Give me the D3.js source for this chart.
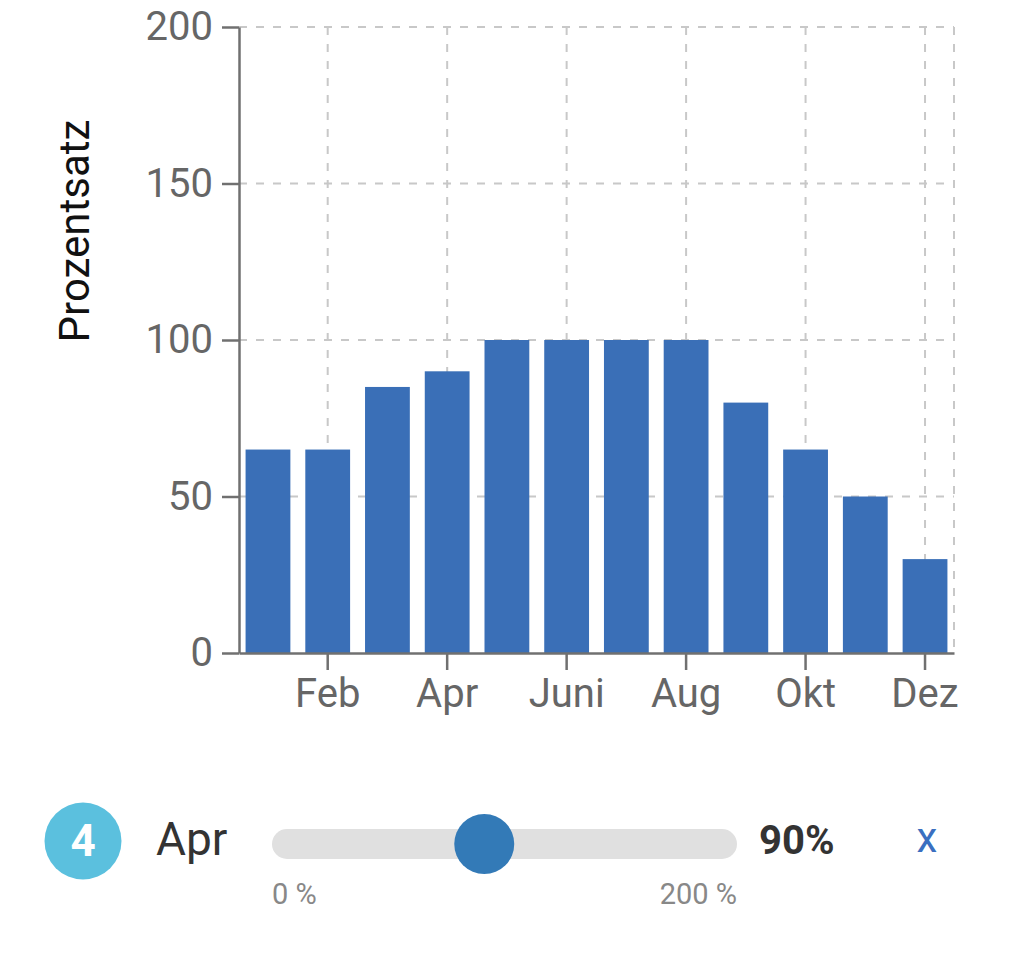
<!DOCTYPE html>
<html>
<head>
<meta charset="utf-8">
<script src="https://cdn.jsdelivr.net/npm/d3@7"></script>
<style>
  html, body { margin: 0; padding: 0; background: #fff; }
  svg { display: block; font-family: Roboto, "Noto Sans", sans-serif; }
</style>
</head>
<body>
<svg id="chart" width="1024" height="953"></svg>
<script>
// ---- data ----
const months = ["Jan", "Feb", "Mär", "Apr", "Mai", "Juni", "Juli", "Aug", "Sep", "Okt", "Nov", "Dez"];
const values = [65, 65, 85, 90, 100, 100, 100, 100, 80, 65, 50, 30];
const shownMonths = ["Feb", "Apr", "Juni", "Aug", "Okt", "Dez"];
const yTicks = [0, 50, 100, 150, 200];
const yLabel = "Prozentsatz";
const selectedIndex = 3;          // Apr
const sliderDomain = [0, 200];
const sliderLabels = ["0 %", "200 %"];

// ---- layout ----
const L = 239, R = 954, T = 27, B = 653;
const svg = d3.select("#chart");

const x = d3.scaleBand().domain(months).range([L, R]).paddingInner(0.25).paddingOuter(0.11);
const y = d3.scaleLinear().domain([0, 200]).range([B, T]);

const gridColor = "#c8c8c8";
const dash = "8,9";

// horizontal grid
svg.append("g").selectAll("line")
  .data(yTicks.filter(d => d > 0))
  .join("line")
  .attr("x1", L).attr("x2", R)
  .attr("y1", d => y(d)).attr("y2", d => y(d))
  .attr("stroke", gridColor).attr("stroke-width", 2).attr("stroke-dasharray", dash);

// vertical grid
const vx = shownMonths.map(m => x(m) + x.bandwidth() / 2).concat([R]);
svg.append("g").selectAll("line")
  .data(vx)
  .join("line")
  .attr("x1", d => d).attr("x2", d => d)
  .attr("y1", T).attr("y2", B)
  .attr("stroke", gridColor).attr("stroke-width", 2).attr("stroke-dasharray", dash);

// bars
svg.append("g").selectAll("rect")
  .data(values)
  .join("rect")
  .attr("x", (d, i) => x(months[i]))
  .attr("width", x.bandwidth())
  .attr("y", d => y(d))
  .attr("height", d => B - y(d))
  .attr("fill", "#3a6fb7");

const axisColor = "#707070";
const tickText = "#666666";

// x axis
const gx = svg.append("g").attr("transform", `translate(0,${B})`)
  .call(d3.axisBottom(x).tickValues(shownMonths).tickSize(17).tickSizeOuter(0).tickPadding(8.6));
gx.select(".domain").attr("stroke", axisColor).attr("stroke-width", 2.5);
gx.selectAll(".tick line").attr("stroke", axisColor).attr("stroke-width", 2.5);
gx.selectAll(".tick text").attr("fill", tickText).style("font-size", "40px").style("font-family", "Roboto");

// y axis
const gy = svg.append("g").attr("transform", `translate(${L},0)`)
  .call(d3.axisLeft(y).tickValues(yTicks).tickSize(17).tickSizeOuter(0).tickPadding(9));
gy.select(".domain").attr("stroke", axisColor).attr("stroke-width", 2.5);
gy.selectAll(".tick line").attr("stroke", axisColor).attr("stroke-width", 2.5);
gy.selectAll(".tick text").attr("fill", tickText).style("font-size", "40px").style("font-family", "Roboto");

// y label
svg.append("text")
  .attr("transform", `translate(89,231) rotate(-90)`)
  .attr("text-anchor", "middle")
  .style("font-size", "42px")
  .attr("fill", "#111")
  .text(yLabel);

// ---- bottom control ----
const cy = 841;
svg.append("circle").attr("cx", 83).attr("cy", cy).attr("r", 38.5).attr("fill", "#5bc0de");
svg.append("text").attr("x", 83).attr("y", 856).attr("text-anchor", "middle")
  .style("font-size", "44px").style("font-weight", "bold").attr("fill", "#fff")
  .text(selectedIndex + 1);
svg.append("text").attr("x", 156).attr("y", 855)
  .style("font-size", "46px").attr("fill", "#333")
  .text(months[selectedIndex]);

const trackL = 272, trackR = 737, trackY = 844, thumbR = 30;
svg.append("rect").attr("x", trackL).attr("y", trackY - 15).attr("width", trackR - trackL).attr("height", 30)
  .attr("rx", 15).attr("fill", "#e0e0e0");
const s = d3.scaleLinear().domain(sliderDomain).range([trackL + thumbR, trackR - thumbR]);
svg.append("circle").attr("cx", s(values[selectedIndex])).attr("cy", trackY).attr("r", thumbR).attr("fill", "#337ab7");

svg.append("text").attr("x", 759).attr("y", 854)
  .style("font-size", "40px").style("font-weight", "bold").attr("fill", "#333")
  .text(values[selectedIndex] + "%");
svg.append("text").attr("x", 927).attr("y", 852).attr("text-anchor", "middle")
  .style("font-size", "42px").attr("fill", "#3a6fc0")
  .text("x");

svg.append("text").attr("x", trackL).attr("y", 904)
  .style("font-size", "29px").attr("fill", "#888").text(sliderLabels[0]);
svg.append("text").attr("x", trackR).attr("y", 904).attr("text-anchor", "end")
  .style("font-size", "29px").attr("fill", "#888").text(sliderLabels[1]);
</script>
</body>
</html>
